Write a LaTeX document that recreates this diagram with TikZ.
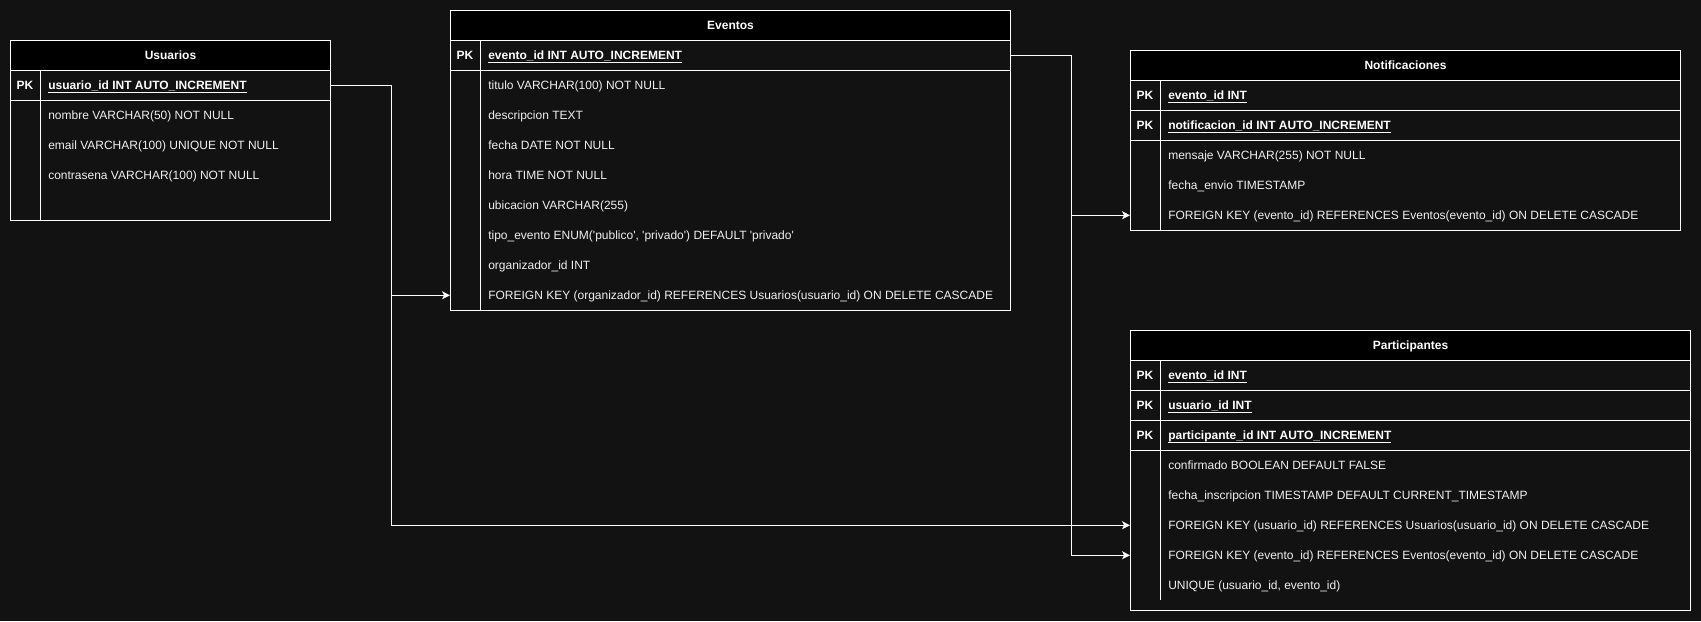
\documentclass[tikz,border=0pt]{standalone}
\usepackage{fontspec}
\setmainfont{Liberation Sans}
\usetikzlibrary{arrows.meta}

\definecolor{canvas}{RGB}{18,18,18}
\definecolor{rowtext}{RGB}{240,240,240}

% text size used throughout the schema
\newcommand\erfont{\fontsize{9pt}{11pt}\selectfont}
% underline at a fixed depth below the baseline (primary key columns)
\newcommand\keyline[1]{\setbox0\hbox{#1}\rlap{\rule[-2.1pt]{\wd0}{0.75pt}}\box0}
\newcommand\sqt{\textquotesingle}

\tikzset{
  tablebody/.style={draw=white, fill=canvas, line width=0.75pt},
  headcell/.style={draw=white, fill=black, line width=0.75pt, anchor=north west,
    inner sep=0pt, minimum height=22.5pt, text height=6.45pt, text depth=0pt,
    text=white, font=\erfont\bfseries},
  keyrow/.style={draw=white, line width=0.75pt, anchor=north west,
    inner sep=0pt, minimum height=22.5pt},
  plainrow/.style={anchor=north west, inner sep=0pt, minimum height=22.5pt},
  pkmark/.style={inner sep=0pt, text height=6.45pt, text depth=0pt,
    text=white, font=\erfont\bfseries},
  keytext/.style={anchor=west, inner sep=0pt, text height=6.45pt, text depth=0pt,
    text=white, font=\erfont\bfseries},
  celltext/.style={anchor=west, inner sep=0pt, text height=6.45pt, text depth=0pt,
    text=rowtext, font=\erfont},
  divider/.style={draw=white, line width=0.75pt},
  link/.style={draw=white, line width=0.75pt,
    -{Stealth[length=6pt, width=6pt, inset=1.6pt]}}
}

% primary key row: name, x, y, width, column text
\newcommand\erKey[5]{%
  \node[keyrow, minimum width=#4] (#1) at (#2,#3) {};
  \node[pkmark] (#1-k) at ([xshift=11.25pt]#1.west) {PK};
  \node[keytext] (#1-t) at ([xshift=28.5pt]#1.west) {\keyline{#5}};
}
% ordinary column row: name, x, y, width, column text
\newcommand\erField[5]{%
  \node[plainrow, minimum width=#4] (#1) at (#2,#3) {};
  \node[celltext] (#1-t) at ([xshift=28.5pt]#1.west) {#5};
}

\begin{document}
\begin{tikzpicture}[x=0.75pt, y=-0.75pt]
\fill[canvas] (0,0) rectangle (1701,621);
\useasboundingbox (0,0) rectangle (1701,621);

% ---------- Usuarios ----------
\draw[tablebody] (10,70) rectangle (330,220);
\node[headcell, minimum width=240pt] (u-head) at (10,40) {Usuarios};
\erKey{u-pk}{10}{70}{240pt}{usuario\_id INT AUTO\_INCREMENT}
\erField{u-f1}{10}{100}{240pt}{nombre VARCHAR(50) NOT NULL}
\erField{u-f2}{10}{130}{240pt}{email VARCHAR(100) UNIQUE NOT NULL}
\erField{u-f3}{10}{160}{240pt}{contrasena VARCHAR(100) NOT NULL}
\draw[divider] (40,70) -- (40,220);

% ---------- Eventos ----------
\draw[tablebody] (450,40) rectangle (1010,310);
\node[headcell, minimum width=420pt] (e-head) at (450,10) {Eventos};
\erKey{e-pk}{450}{40}{420pt}{evento\_id INT AUTO\_INCREMENT}
\erField{e-f1}{450}{70}{420pt}{titulo VARCHAR(100) NOT NULL}
\erField{e-f2}{450}{100}{420pt}{descripcion TEXT}
\erField{e-f3}{450}{130}{420pt}{fecha DATE NOT NULL}
\erField{e-f4}{450}{160}{420pt}{hora TIME NOT NULL}
\erField{e-f5}{450}{190}{420pt}{ubicacion VARCHAR(255)}
\erField{e-f6}{450}{220}{420pt}{tipo\_evento ENUM(\sqt publico\sqt, \sqt privado\sqt) DEFAULT \sqt privado\sqt}
\erField{e-f7}{450}{250}{420pt}{organizador\_id INT}
\erField{e-fk}{450}{280}{420pt}{FOREIGN KEY (organizador\_id) REFERENCES Usuarios(usuario\_id) ON DELETE CASCADE}
\draw[divider] (480,40) -- (480,310);

% ---------- Notificaciones ----------
\draw[tablebody] (1130,80) rectangle (1680,230);
\node[headcell, minimum width=412.5pt] (n-head) at (1130,50) {Notificaciones};
\erKey{n-pk1}{1130}{80}{412.5pt}{evento\_id INT}
\erKey{n-pk2}{1130}{110}{412.5pt}{notificacion\_id INT AUTO\_INCREMENT}
\erField{n-f1}{1130}{140}{412.5pt}{mensaje VARCHAR(255) NOT NULL}
\erField{n-f2}{1130}{170}{412.5pt}{fecha\_envio TIMESTAMP}
\erField{n-fk}{1130}{200}{412.5pt}{FOREIGN KEY (evento\_id) REFERENCES Eventos(evento\_id) ON DELETE CASCADE}
\draw[divider] (1160,80) -- (1160,230);

% ---------- Participantes ----------
\draw[tablebody] (1130,360) rectangle (1690,610);
\node[headcell, minimum width=420pt] (p-head) at (1130,330) {Participantes};
\erKey{p-pk1}{1130}{360}{420pt}{evento\_id INT}
\erKey{p-pk2}{1130}{390}{420pt}{usuario\_id INT}
\erKey{p-pk3}{1130}{420}{420pt}{participante\_id INT AUTO\_INCREMENT}
\erField{p-f1}{1130}{450}{420pt}{confirmado BOOLEAN DEFAULT FALSE}
\erField{p-f2}{1130}{480}{420pt}{fecha\_inscripcion TIMESTAMP DEFAULT CURRENT\_TIMESTAMP}
\erField{p-fku}{1130}{510}{420pt}{FOREIGN KEY (usuario\_id) REFERENCES Usuarios(usuario\_id) ON DELETE CASCADE}
\erField{p-fke}{1130}{540}{420pt}{FOREIGN KEY (evento\_id) REFERENCES Eventos(evento\_id) ON DELETE CASCADE}
\erField{p-f5}{1130}{570}{420pt}{UNIQUE (usuario\_id, evento\_id)}
\draw[divider] (1160,360) -- (1160,600);

% ---------- relationships ----------
\draw[link] (u-pk.east) -- ++(60,0) |- (e-fk.west);
\draw[link] (u-pk.east) -- ++(60,0) |- (p-fku.west);
\draw[link] (e-pk.east) -- ++(60,0) |- (n-fk.west);
\draw[link] (e-pk.east) -- ++(60,0) |- (p-fke.west);
\end{tikzpicture}
\end{document}
